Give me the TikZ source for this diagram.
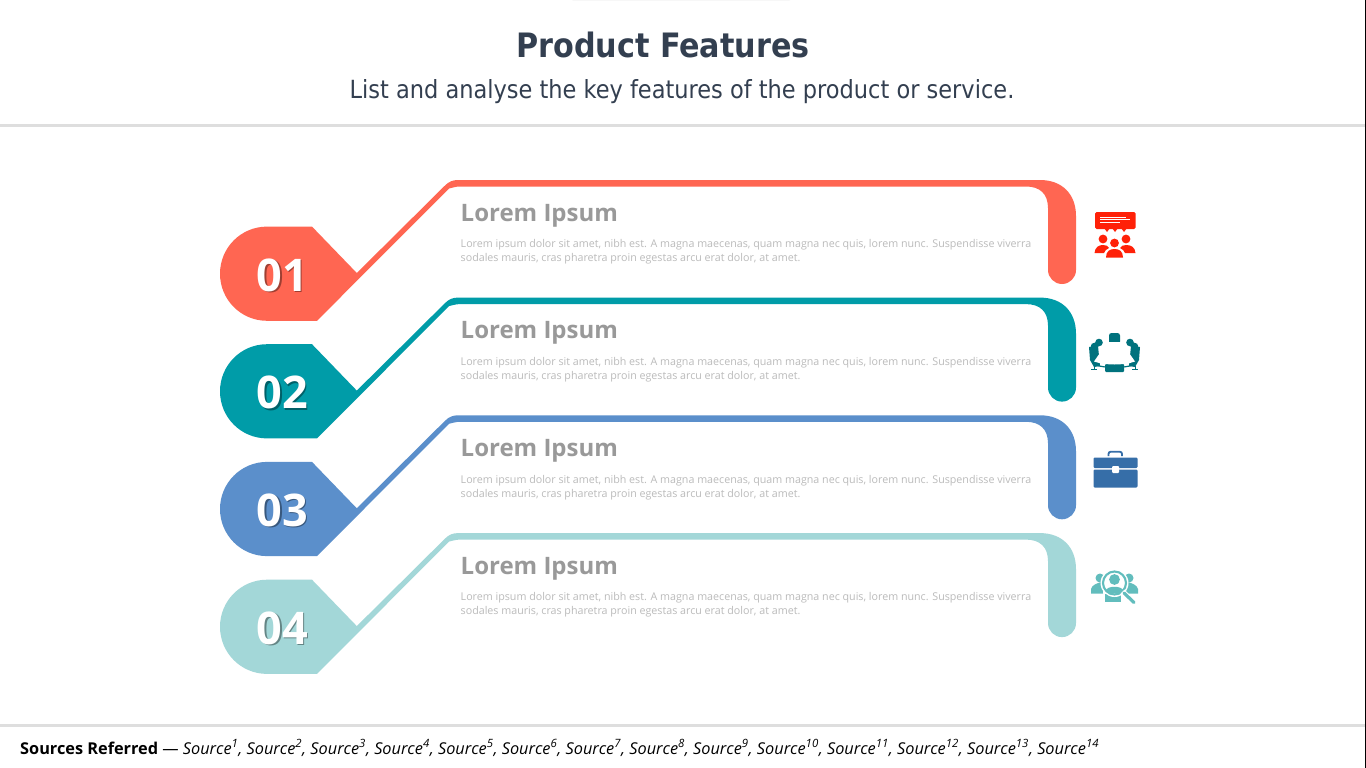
\documentclass[tikz,border=0pt]{standalone}
\usepackage{fontspec}
\setmainfont{Open Sans}
\newfontfamily\titlefont{DejaVu Sans Condensed}
\definecolor{cA}{HTML}{FF6652}
\definecolor{cB}{HTML}{009CA8}
\definecolor{cC}{HTML}{5B8FCB}
\definecolor{cD}{HTML}{A3D7D8}
\definecolor{iA}{HTML}{FF2108}
\definecolor{iB}{HTML}{00727D}
\definecolor{iC}{HTML}{366EA8}
\definecolor{iD}{HTML}{62BDBD}
\definecolor{titlec}{HTML}{333F50}
\definecolor{rulec}{HTML}{DEDEDE}
\definecolor{headc}{HTML}{999999}
\definecolor{bodyc}{HTML}{BBBBBB}
\tikzset{
  rulebar/.style={draw=rulec,line width=2.6},
  headtxt/.style={anchor=base west,inner sep=0,text=headc,font=\fontsize{24}{28}\selectfont\bfseries},
  bodytxt/.style={anchor=north west,inner sep=0,text=bodyc,align=left,font=\fontsize{10.7}{14}\selectfont},
  numtxt/.style={inner sep=0,text=white,font=\fontsize{45}{50}\selectfont\bfseries},
  numshadow/.style={inner sep=0,text=black,text opacity=0.38,font=\fontsize{45}{50}\selectfont\bfseries},
}
% row: #1 y offset, #2 colour, #3 number
\newcommand{\featurerow}[3]{
  \begin{scope}[yshift=#1]
    \fill[#2] (267,226.6) -- (312,226.6) -- (356.8,273)
      -- (445,185.5) .. controls (449,181.5) and (453,180) .. (458,180)
      -- (1040,180) .. controls (1062,180) and (1076,194) .. (1076,216)
      -- (1076,270) .. controls (1076,277.7) and (1069.7,284) .. (1062,284)
      .. controls (1054.3,284) and (1048,277.7) .. (1048,270)
      -- (1048,208) .. controls (1048,194) and (1040,186.5) .. (1026,186.5)
      -- (460,186.5) .. controls (455,186.5) and (452,188) .. (449,188.5)
      -- (317,320.8) -- (267,320.8)
      .. controls (241,320.8) and (220,299.7) .. (220,273.7)
      .. controls (220,247.7) and (241,226.6) .. (267,226.6) -- cycle;
    \node[numshadow] at (283.8,276.6) {#3};
    \node[numtxt] (num#3) at (282.4,275.2) {#3};
    \node[headtxt] (head#3) at (460.5,221) {Lorem Ipsum};
    \node[bodytxt] (body#3) at (460.5,239.4) {Lorem ipsum dolor sit amet, nibh est. A magna maecenas, quam magna nec quis, lorem nunc. Suspendisse viverra\\sodales mauris, cras pharetra proin egestas arcu erat dolor, at amet.};
  \end{scope}
}
\begin{document}
\begin{tikzpicture}[x=1pt,y=-1pt]
\useasboundingbox (0,0) rectangle (1366,768);
\fill[white] (0,0) rectangle (1366,768);
\fill[black!3,rounded corners=1] (572,-3) rectangle (790,1);
\draw[black,line width=1] (1365.5,0) -- (1365.5,768);
\draw[rulebar] (0,125.5) -- (1365,125.5);
\draw[rulebar] (0,725.5) -- (1365,725.5);
\node[inner sep=0,text=titlec,font=\titlefont\fontsize{33.6}{40}\selectfont\bfseries] (title) at (663,45) {Product Features};
\node[inner sep=0,text=titlec,font=\titlefont\fontsize{25}{30}\selectfont] (sub) at (682,92) {List and analyse the key features of the product or service.};
\featurerow{0}{cA}{01}
\featurerow{-117.6}{cB}{02}
\featurerow{-235.3}{cC}{03}
\featurerow{-353.1}{cD}{04}
% icon 1: audience
\fill[iA,rounded corners=1.5] (1095,212) rectangle (1135.5,229);
\fill[iA] (1104,228) -- (1110,228) -- (1107,232) -- cycle (1112,228) -- (1118,228) -- (1115,232) -- cycle (1121,228) -- (1127,228) -- (1124,232) -- cycle;
\draw[white,line width=.8] (1100,217) -- (1126,217) (1100,219.7) -- (1130,219.7) (1100,222.4) -- (1120,222.4);
\fill[iA] (1103,239) circle (4.4) (1126,239) circle (4.4) (1114.5,243) circle (4.4);
\fill[iA] (1094.5,253) .. controls (1095,247) and (1099,245) .. (1103,245) .. controls (1106,245) and (1108,246) .. (1109,248) .. controls (1106,249) and (1105,251) .. (1104,253) -- cycle;
\fill[iA] (1135.5,253) .. controls (1135,247) and (1131,245) .. (1126,245) .. controls (1123,245) and (1121,246) .. (1120,248) .. controls (1123,249) and (1124,251) .. (1125,253) -- cycle;
\fill[iA] (1106,257.5) .. controls (1106,251) and (1110,249) .. (1114.5,249) .. controls (1119,249) and (1123,251) .. (1123,257.5) -- cycle;
% icon 2: boardroom
\fill[iB,rounded corners=2.5] (1109,333) rectangle (1120,344);
\fill[iB] (1099,342.5) circle (3.8) (1130,342.5) circle (3.8) (1094.5,346.5) circle (3.8) (1134.5,346.5) circle (3.8);
\fill[iB] (1089,347) -- (1098,346) -- (1100,366) -- (1094,367) -- (1090,360) -- cycle;
\fill[iB] (1140,347) -- (1131,346) -- (1129,366) -- (1135,367) -- (1139,360) -- cycle;
\fill[iB,rounded corners=1] (1105,364) rectangle (1124,372);
\draw[iB,line width=1.2] (1094,364.5) .. controls (1105,368.5) and (1124,368.5) .. (1135,364.5);
\fill[white] (1107.5,342) -- (1121.5,342) -- (1135,361.5) .. controls (1124,365.5) and (1105,365.5) .. (1094,361.5) -- cycle;
\draw[iB,line width=.9] (1094,366) -- (1094,368.5) (1091,369) -- (1097,369) (1135,366) -- (1135,368.5) (1132,369) -- (1138,369);
% icon 3: briefcase
\draw[iC,line width=1.8,rounded corners=2.2] (1108.5,456) -- (1108.5,451.7) -- (1122,451.7) -- (1122,456);
\fill[iC,rounded corners=1.2] (1093.5,457.5) rectangle (1137.5,468);
\fill[iC,rounded corners=1.2] (1093.5,469.5) rectangle (1137.5,487.5);
\fill[white,rounded corners=1] (1112,466) rectangle (1119,473);
% icon 4: search people
\fill[iD] (1100,578) circle (4.5) (1129,578) circle (4.5);
\fill[iD] (1091,593.5) -- (1091,589) .. controls (1092,585) and (1097,583) .. (1102,582) -- (1103,593.5) -- cycle;
\fill[iD] (1138,593.5) -- (1138,589) .. controls (1137,585) and (1132,583) .. (1127,582) -- (1126,593.5) -- cycle;
\fill[iD] (1105,594) rectangle (1121,602);
\fill[white] (1114.5,583) circle (14);
\draw[iD,line width=2.1] (1114.5,583) circle (11.5);
\fill[iD] (1114.5,579.5) circle (5.4);
\fill[iD] (1105.5,590.5) .. controls (1108,585.5) and (1121,585.5) .. (1123.5,590.5) .. controls (1119,594.5) and (1110,594.5) .. (1105.5,590.5) -- cycle;
\draw[white,line width=5.5] (1122.5,591.5) -- (1134,603);
\draw[iD,line width=3.2,line cap=round] (1124,593) -- (1134,602.5);
% footer
\node[anchor=base west,inner sep=0,text=black,font=\fontsize{16.3}{18}\selectfont] (src) at (20,754) {\textbf{Sources Referred} --- \textit{Source\textsuperscript{1}, Source\textsuperscript{2}, Source\textsuperscript{3}, Source\textsuperscript{4}, Source\textsuperscript{5}, Source\textsuperscript{6}, Source\textsuperscript{7}, Source\textsuperscript{8}, Source\textsuperscript{9}, Source\textsuperscript{10}, Source\textsuperscript{11}, Source\textsuperscript{12}, Source\textsuperscript{13}, Source\textsuperscript{14}}};
\end{tikzpicture}
\end{document}
